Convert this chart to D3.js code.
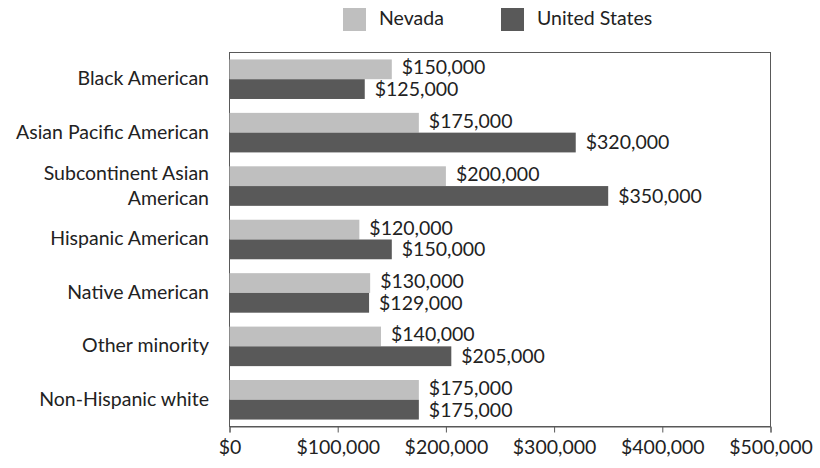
<!DOCTYPE html>
<html>
<head>
<meta charset="utf-8">
<script src="https://cdn.jsdelivr.net/npm/d3@7"></script>
<style>
  html, body { margin: 0; padding: 0; background: #fff; }
  svg text { font-family: "Lato", "Open Sans", sans-serif; fill: #222; }
</style>
</head>
<body>
<svg id="chart" width="820" height="468"></svg>
<script>
// Median household value by group
const categories = [
  ["Black American"],
  ["Asian Pacific American"],
  ["Subcontinent Asian", "American"],
  ["Hispanic American"],
  ["Native American"],
  ["Other minority"],
  ["Non-Hispanic white"]
];
const seriesNames = ["Nevada", "United States"];
const nevadaValues = [150000, 175000, 200000, 120000, 130000, 140000, 175000];
const usValues     = [125000, 320000, 350000, 150000, 129000, 205000, 175000];
const xTicks = [0, 100000, 200000, 300000, 400000, 500000];

const colors = ["#bfbfbf", "#595959"];
const FS = 19.5;
const svg = d3.select("#chart");
const margin = { left: 229.5, right: 49.5, top: 52.5, bottom: 41.5 };
const W = 820, H = 468;

const x = d3.scaleLinear().domain([0, 500000]).range([margin.left, W - margin.right]);
const y = d3.scaleBand().domain(d3.range(categories.length))
  .range([margin.top, H - margin.bottom]).paddingInner(0.26).paddingOuter(0.13);
const sub = d3.scaleBand().domain([0, 1]).range([0, y.bandwidth()]);

const fmt = d => "$" + d3.format(",")(d);

// plot frame
svg.append("rect")
  .attr("x", x(0)).attr("y", margin.top)
  .attr("width", x(500000) - x(0)).attr("height", H - margin.bottom - margin.top)
  .attr("fill", "none").attr("stroke", "#595959").attr("stroke-width", 1);

// bars
const data = categories.map((c, i) => ({ i, vals: [nevadaValues[i], usValues[i]] }));
const groups = svg.append("g").selectAll("g").data(data).join("g")
  .attr("transform", d => `translate(0,${y(d.i)})`);

groups.selectAll("rect").data(d => d.vals.map((v, k) => ({ v, k }))).join("rect")
  .attr("x", x(0))
  .attr("y", d => sub(d.k))
  .attr("width", d => x(d.v) - x(0))
  .attr("height", sub.bandwidth())
  .attr("fill", d => colors[d.k]);

// value labels, nudged slightly apart so the pair stays readable
groups.selectAll("text.val").data(d => d.vals.map((v, k) => ({ v, k }))).join("text")
  .attr("class", "val")
  .attr("x", d => x(d.v) + 10)
  .attr("y", d => sub(d.k) + sub.bandwidth() / 2 + (d.k === 0 ? 0 : 2))
  .attr("dominant-baseline", "middle")
  .attr("font-size", FS)
  .text(d => fmt(d.v));

// category labels
svg.append("g").selectAll("text").data(categories).join("text")
  .attr("text-anchor", "end")
  .attr("font-size", FS)
  .attr("x", 209)
  .attr("y", (d, i) => y(i) + y.bandwidth() / 2)
  .each(function (lines) {
    const t = d3.select(this);
    const lh = 25;
    lines.forEach((ln, j) => {
      t.append("tspan").attr("x", 209)
        .attr("dy", j === 0 ? (-(lines.length - 1) * lh / 2 + 1) : lh)
        .attr("dominant-baseline", "middle")
        .text(ln);
    });
  });

// x axis
const axis = svg.append("g")
  .attr("transform", `translate(0,${H - margin.bottom})`)
  .call(d3.axisBottom(x).tickValues(xTicks).tickFormat(fmt).tickSize(6).tickPadding(8));
axis.select(".domain").attr("stroke", "#595959");
axis.selectAll(".tick line").attr("stroke", "#595959");
axis.selectAll(".tick text").attr("font-size", FS).attr("fill", "#222")
  .style("font-family", "Lato, 'Open Sans', sans-serif");

// legend
const legendX = [343, 501];
const legend = svg.append("g").selectAll("g").data(seriesNames).join("g")
  .attr("transform", (d, i) => `translate(${legendX[i]},8)`);
legend.append("rect").attr("width", 23).attr("height", 23).attr("fill", (d, i) => colors[i]);
legend.append("text").attr("x", 36).attr("y", 12).attr("dominant-baseline", "middle")
  .attr("font-size", FS).text(d => d);
</script>
</body>
</html>
